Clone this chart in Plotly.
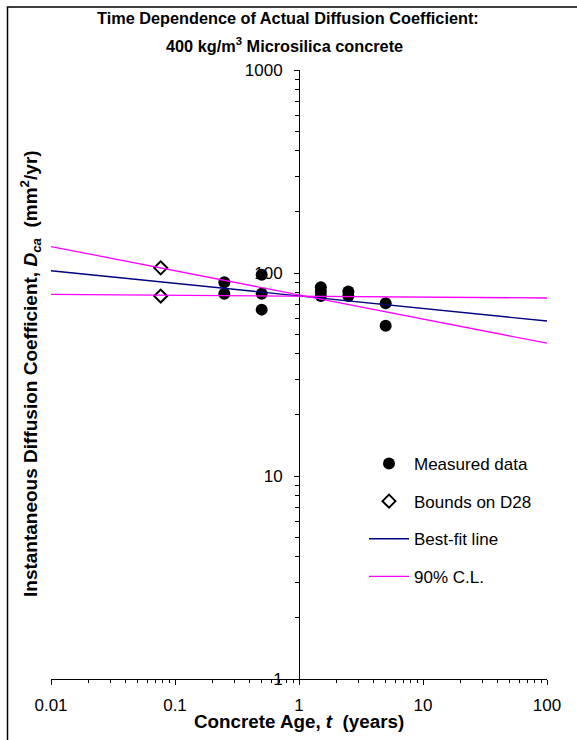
import plotly.graph_objects as go

# Measured actual diffusion coefficients (mm^2/yr) against concrete age (years)
t_measured = [0.25, 0.25, 0.5, 0.5, 0.5, 1.5, 1.5, 1.5, 2.5, 2.5, 5, 5]
d_measured = [90, 79, 98, 79, 66, 85, 81, 77, 81, 77, 71, 55]

# Upper and lower bounds on the 28-day coefficient
t_d28 = [0.0767, 0.0767]
d_d28 = [106, 77]

# Best-fit power-law line (straight on log-log axes)
t_fit = [0.01, 100]
d_fit = [102.6, 58.0]

# 90% confidence limits: steep and flat lines, one legend entry
t_cl = [0.01, 100, None, 0.01, 100]
d_cl = [135, 45.1, None, 78.5, 75.3]

x_tickvals = [0.01, 0.1, 1, 10, 100]
x_ticktext = ["0.01", "0.1", "1", "10", "100"]
y_tickvals = [1, 10, 100, 1000]
y_ticktext = ["1", "10", "100", "1000"]

x_minor = [m * 10 ** e for e in (-2, -1, 0, 1) for m in range(2, 10)]
y_minor = [m * 10 ** e for e in (0, 1, 2) for m in range(2, 10)]

W, H = 577, 740
ML, MR, MT, MB = 51, 30, 70, 61
PW, PH = W - ML - MR, H - MT - MB


def px_x(px):
    return (px - ML) / PW


def px_y(py):
    return (H - MB - py) / PH


FONT = "Liberation Sans, Arial, sans-serif"

fig = go.Figure()

fig.add_trace(go.Scatter(
    x=t_measured, y=d_measured, mode="markers", name="Measured data",
    legendgroup="a",
    marker=dict(symbol="circle", size=12, color="black", line=dict(width=0)),
))
fig.add_trace(go.Scatter(
    x=t_d28, y=d_d28, mode="markers", name="Bounds on D28",
    legendgroup="b",
    marker=dict(symbol="diamond", size=10, color="white",
                line=dict(color="black", width=2)),
))
fig.add_trace(go.Scatter(
    x=t_fit, y=d_fit, mode="lines", name="Best-fit line",
    legendgroup="c",
    line=dict(color="#000080", width=1.3),
))
fig.add_trace(go.Scatter(
    x=t_cl, y=d_cl, mode="lines", name="90% C.L.",
    legendgroup="d",
    line=dict(color="#FF00FF", width=1.3),
))

fig.update_layout(
    width=W, height=H,
    margin=dict(l=ML, r=MR, t=MT, b=MB),
    paper_bgcolor="white", plot_bgcolor="white",
    font=dict(family=FONT, color="black", size=17),
    showlegend=True,
    legend=dict(
        x=px_x(364), y=px_y(446), xanchor="left", yanchor="top",
        bgcolor="rgba(0,0,0,0)", borderwidth=0,
        font=dict(family=FONT, size=17, color="black"),
        traceorder="grouped", tracegroupgap=12.5, itemwidth=40,
    ),
    xaxis=dict(
        type="log", range=[-2, 2], showgrid=False, zeroline=False,
        showline=True, linecolor="black", linewidth=1,
        ticks="outside", ticklen=5, tickcolor="black", tickwidth=1,
        tickvals=x_tickvals, ticktext=x_ticktext,
        tickfont=dict(family=FONT, size=17, color="black"),
        minor=dict(ticks="outside", ticklen=3, tickcolor="black",
                   tickvals=x_minor, showgrid=False),
        ticklabelstandoff=6,
    ),
    yaxis=dict(
        type="log", range=[0, 3], showgrid=False, zeroline=False,
        anchor="free", position=0.5, side="left",
        showline=True, linecolor="black", linewidth=1,
        ticks="outside", ticklen=5, tickcolor="black", tickwidth=1,
        tickvals=y_tickvals, ticktext=y_ticktext,
        tickfont=dict(family=FONT, size=17, color="black"),
        minor=dict(ticks="outside", ticklen=4, tickcolor="black",
                   tickvals=y_minor, showgrid=False),
        ticklabelstandoff=8,
    ),
)

# Chart title (two lines)
fig.add_annotation(
    text="<b>Time Dependence of Actual Diffusion Coefficient:</b>",
    xref="paper", yref="paper", x=px_x(288), y=px_y(18),
    showarrow=False, xanchor="center", yanchor="middle",
    font=dict(family=FONT, size=16.3, color="black"),
)
fig.add_annotation(
    text="<b>400 kg/m<sup>3</sup> Microsilica concrete</b>",
    xref="paper", yref="paper", x=px_x(284), y=px_y(45),
    showarrow=False, xanchor="center", yanchor="middle",
    font=dict(family=FONT, size=16.3, color="black"),
)

# Axis titles
fig.add_annotation(
    text="<b>Concrete Age, <i>t</i>&nbsp; (years)</b>",
    xref="paper", yref="paper", x=px_x(299), y=px_y(721),
    showarrow=False, xanchor="center", yanchor="middle",
    font=dict(family=FONT, size=18.8, color="black"),
)
fig.add_annotation(
    text="<b>Instantaneous Diffusion Coefficient, <i>D<sub>ca</sub></i>&nbsp; (mm<sup>2</sup>/yr)</b>",
    xref="paper", yref="paper", x=px_x(31), y=px_y(374),
    showarrow=False, xanchor="center", yanchor="middle", textangle=-90,
    font=dict(family=FONT, size=19, color="black"),
)

# Chart frame
fig.add_shape(
    type="rect", xref="paper", yref="paper",
    x0=px_x(7.5), x1=px_x(620), y0=px_y(780), y1=px_y(7),
    line=dict(color="black", width=1.5), fillcolor="rgba(0,0,0,0)",
    layer="below",
)

fig.write_html("out.html")
